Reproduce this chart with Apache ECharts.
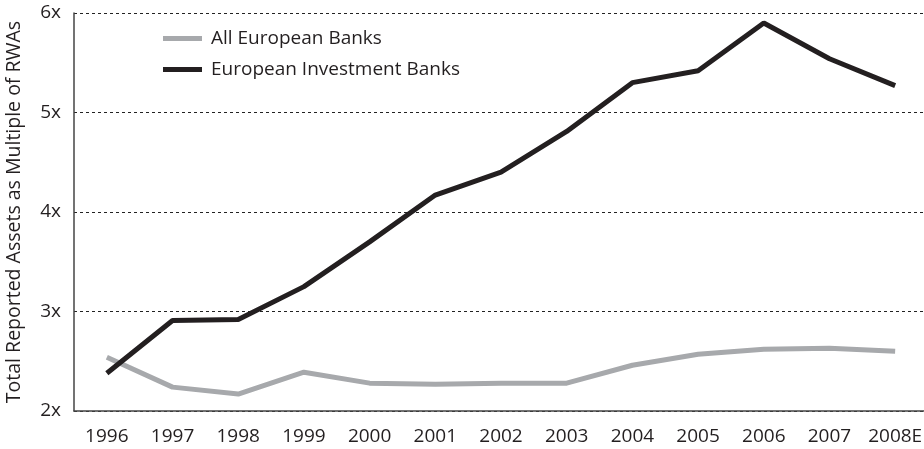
<!DOCTYPE html>
<html>
<head>
<meta charset="utf-8">
<script src="https://cdn.jsdelivr.net/npm/echarts@6/dist/echarts.min.js"></script>
<style>
  html, body { margin: 0; padding: 0; background: #fff; }
  #chart { width: 924px; height: 449px; }
</style>
</head>
<body>
<div id="chart"></div>
<script>
// categories and values
const years = ['1996', '1997', '1998', '1999', '2000', '2001', '2002', '2003', '2004', '2005', '2006', '2007', '2008E']
const allBanks = [2.54, 2.24, 2.17, 2.39, 2.28, 2.27, 2.28, 2.28, 2.46, 2.57, 2.62, 2.63, 2.60]
const investBanks = [2.38, 2.91, 2.92, 3.25, 3.70, 4.17, 4.40, 4.81, 5.30, 5.42, 5.90, 5.54, 5.27]
const yTicks = [2, 3, 4, 5, 6]

const font = 'Open Sans'
const textColor = '#231f20'

let mychart = echarts.init(document.getElementById('chart'))

let option = {
  animation: false,
  textStyle: { fontFamily: font },
  legend: {
    orient: 'vertical',
    left: 158,
    top: 24,
    itemWidth: 39,
    itemHeight: 5,
    itemGap: 12,
    icon: 'rect',
    textStyle: { fontFamily: font, fontSize: 19, color: textColor, padding: [0, 0, 0, 4] },
    data: ['All European Banks', 'European Investment Banks']
  },
  grid: {
    left: 74,
    right: -4,
    top: 13,
    bottom: 38,
    outerBoundsMode: 'none'
  },
  xAxis: {
    type: 'category',
    data: years,
    boundaryGap: true,
    axisLine: { lineStyle: { color: '#444', width: 1.5 } },
    axisTick: { inside: true, length: 6, interval: 0, lineStyle: { color: '#444', width: 1.5 } },
    axisLabel: { interval: 0, hideOverlap: false, fontFamily: font, fontSize: 19, color: textColor, margin: 16 }
  },
  yAxis: {
    type: 'value',
    min: yTicks[0],
    max: yTicks[yTicks.length - 1],
    interval: 1,
    name: 'Total Reported Assets as Multiple of RWAs',
    nameLocation: 'middle',
    nameGap: 50,
    nameTextStyle: { fontFamily: font, fontSize: 19.5, color: textColor },
    axisLine: { show: true, lineStyle: { color: '#444', width: 1.5 } },
    axisTick: { show: false },
    axisLabel: {
      fontFamily: font,
      fontSize: 19,
      color: textColor,
      margin: 13,
      formatter: v => v + 'x'
    },
    splitLine: {
      lineStyle: { color: '#222', width: 1, type: [3, 3] }
    }
  },
  series: [
    {
      name: 'All European Banks',
      type: 'line',
      data: allBanks,
      symbol: 'none',
      color: '#a7a9ac',
      lineStyle: { width: 5, color: '#a7a9ac' }
    },
    {
      name: 'European Investment Banks',
      type: 'line',
      data: investBanks,
      symbol: 'none',
      color: '#231f20',
      lineStyle: { width: 5, color: '#231f20' }
    }
  ]
}

mychart.setOption(option)
</script>
</body>
</html>
